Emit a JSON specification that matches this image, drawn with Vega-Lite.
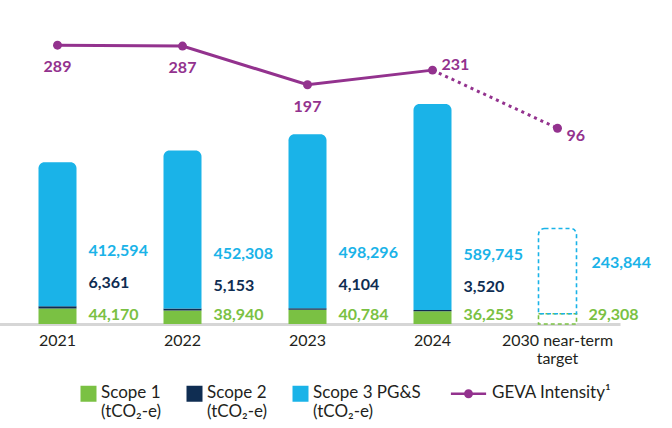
{
  "$schema": "https://vega.github.io/schema/vega-lite/v6.json",
  "width": 672,
  "height": 324,
  "padding": 0,
  "config": {"view": {"stroke": null}, "font": "Lato"},
  "datasets": {
    "bars": [
      {"year": "2021", "scope": "Scope 1", "value": 44170, "kind": "actual"},
      {"year": "2021", "scope": "Scope 2", "value": 6361, "kind": "actual"},
      {"year": "2021", "scope": "Scope 3 PG&S", "value": 412594, "kind": "actual"},
      {"year": "2022", "scope": "Scope 1", "value": 38940, "kind": "actual"},
      {"year": "2022", "scope": "Scope 2", "value": 5153, "kind": "actual"},
      {"year": "2022", "scope": "Scope 3 PG&S", "value": 452308, "kind": "actual"},
      {"year": "2023", "scope": "Scope 1", "value": 40784, "kind": "actual"},
      {"year": "2023", "scope": "Scope 2", "value": 4104, "kind": "actual"},
      {"year": "2023", "scope": "Scope 3 PG&S", "value": 498296, "kind": "actual"},
      {"year": "2024", "scope": "Scope 1", "value": 36253, "kind": "actual"},
      {"year": "2024", "scope": "Scope 2", "value": 3520, "kind": "actual"},
      {"year": "2024", "scope": "Scope 3 PG&S", "value": 589745, "kind": "actual"},
      {"year": "2030 near-term target", "scope": "Scope 1", "value": 29308, "kind": "target"},
      {"year": "2030 near-term target", "scope": "Scope 3 PG&S", "value": 243844, "kind": "target"}
    ],
    "intensity": [
      {"year": "2021", "intensity": 289},
      {"year": "2022", "intensity": 287},
      {"year": "2023", "intensity": 197},
      {"year": "2024", "intensity": 231},
      {"year": "2030 near-term target", "intensity": 96}
    ]
  },
  "layer": [
    {
      "data": {"name": "bars"},
      "transform": [
        {"stack": "value", "groupby": ["year"], "sort": [{"field": "scope", "order": "ascending"}], "as": ["v0", "v1"]}
      ],
      "layer": [
        {
          "transform": [{"filter": "datum.kind == 'actual' && datum.scope != 'Scope 3 PG&S'"}],
          "mark": {"type": "bar", "width": 38},
          "encoding": {
            "x": {
              "field": "year", "type": "nominal", "sort": null,
              "scale": {"domain": ["2021", "2022", "2023", "2024", "2030 near-term target"], "range": [-5, 620], "paddingInner": 0, "paddingOuter": 0},
              "axis": {
                "title": null, "domain": true, "domainColor": "#D6D6D6", "domainWidth": 3, "ticks": false, "labelAngle": 0,
                "labelFontSize": 16, "labelColor": "#231F20", "labelPadding": 8,
                "labelExpr": "datum.label == '2030 near-term target' ? ['2030 near-term', 'target'] : datum.label"
              }
            },
            "y": {"field": "v1", "type": "quantitative", "scale": {"domain": [0, 927000], "nice": false}, "axis": null},
            "y2": {"field": "v0"},
            "color": {
              "field": "scope", "type": "nominal",
              "scale": {"domain": ["Scope 1", "Scope 2", "Scope 3 PG&S", "GEVA Intensity¹"], "range": ["#7AC143", "#0F2D52", "#1AB3E8", "#93328E"]},
              "legend": {
                "orient": "none", "legendX": 80, "legendY": 385, "direction": "horizontal", "columns": 4, "title": null,
                "symbolType": "square", "symbolSize": 256, "symbolStrokeWidth": 0,
                "labelFontSize": 17, "labelColor": "#231F20", "labelOffset": 4, "columnPadding": 24, "labelLimit": 250,
                "labelBaseline": "top",
                "labelExpr": "datum.label == 'GEVA Intensity¹' ? [datum.label, ' '] : [datum.label, '(tCO₂-e)']",
                "encode": {
                  "symbols": {"update": {
                    "shape": {"signal": "datum.value == 'GEVA Intensity¹' ? 'M-2.2,0H2.2M-0.4,0a0.4,0.4 0 1,0 0.8,0a0.4,0.4 0 1,0 -0.8,0' : 'square'"},
                    "stroke": {"value": "#93328E"},
                    "strokeWidth": {"signal": "datum.value == 'GEVA Intensity¹' ? 2.5 : 0"}
                  }},
                  "labels": {"update": {
                    "dx": {"signal": "datum.value == 'GEVA Intensity¹' ? 11 : 0"},
                    "dy": {"value": -9}
                  }}
                }
              }
            }
          }
        },
        {
          "transform": [{"filter": "datum.kind == 'actual' && datum.scope == 'Scope 3 PG&S'"}],
          "mark": {"type": "bar", "width": 38, "cornerRadiusTopLeft": 6, "cornerRadiusTopRight": 6},
          "encoding": {
            "x": {"field": "year", "type": "nominal", "sort": null},
            "y": {"field": "v1", "type": "quantitative"},
            "y2": {"field": "v0"},
            "color": {"field": "scope", "type": "nominal"}
          }
        },
        {
          "transform": [{"filter": "datum.kind == 'target' && datum.scope == 'Scope 1'"}],
          "mark": {"type": "bar", "width": 38, "fill": "white", "stroke": "#7AC143", "strokeDash": [4, 3], "strokeWidth": 1.6},
          "encoding": {
            "x": {"field": "year", "type": "nominal", "sort": null},
            "y": {"field": "v1", "type": "quantitative"},
            "y2": {"field": "v0"}
          }
        },
        {
          "transform": [{"filter": "datum.kind == 'target' && datum.scope == 'Scope 3 PG&S'"}],
          "mark": {"type": "bar", "width": 38, "fill": "white", "fillOpacity": 0, "stroke": "#1AB3E8", "strokeDash": [4, 3], "strokeWidth": 1.6, "cornerRadiusTopLeft": 6, "cornerRadiusTopRight": 6},
          "encoding": {
            "x": {"field": "year", "type": "nominal", "sort": null},
            "y": {"field": "v1", "type": "quantitative"},
            "y2": {"field": "v0"}
          }
        },
        {
          "transform": [{"filter": "datum.scope == 'Scope 3 PG&S' && datum.kind == 'actual'"}],
          "mark": {"type": "text", "align": "left", "baseline": "middle", "dx": 31, "dy": -55, "fontSize": 16, "fontWeight": "bold", "color": "#1AB3E8"},
          "encoding": {
            "x": {"field": "year", "type": "nominal", "sort": null},
            "y": {"field": "v0", "type": "quantitative"},
            "text": {"field": "value", "type": "quantitative", "format": ","}
          }
        },
        {
          "transform": [{"filter": "datum.scope == 'Scope 3 PG&S' && datum.kind == 'target'"}],
          "mark": {"type": "text", "align": "left", "baseline": "middle", "dx": 34, "dy": -51, "fontSize": 16, "fontWeight": "bold", "color": "#1AB3E8"},
          "encoding": {
            "x": {"field": "year", "type": "nominal", "sort": null},
            "y": {"field": "v0", "type": "quantitative"},
            "text": {"field": "value", "type": "quantitative", "format": ","}
          }
        },
        {
          "transform": [{"filter": "datum.scope == 'Scope 2'"}],
          "mark": {"type": "text", "align": "left", "baseline": "middle", "dx": 31, "dy": -23, "fontSize": 16, "fontWeight": "bold", "color": "#0F2D52"},
          "encoding": {
            "x": {"field": "year", "type": "nominal", "sort": null},
            "y": {"field": "v1", "type": "quantitative"},
            "text": {"field": "value", "type": "quantitative", "format": ","}
          }
        },
        {
          "transform": [{"filter": "datum.scope == 'Scope 1'"}],
          "mark": {"type": "text", "align": "left", "baseline": "middle", "dx": 31, "dy": -9, "fontSize": 16, "fontWeight": "bold", "color": "#7AC143"},
          "encoding": {
            "x": {"field": "year", "type": "nominal", "sort": null},
            "y": {"field": "v0", "type": "quantitative"},
            "text": {"field": "value", "type": "quantitative", "format": ","}
          }
        }
      ]
    },
    {
      "data": {"name": "intensity"},
      "layer": [
        {
          "transform": [{"filter": "datum.year != '2030 near-term target'"}],
          "mark": {"type": "line", "color": "#93328E", "strokeWidth": 3},
          "encoding": {
            "x": {"field": "year", "type": "nominal", "sort": null},
            "y": {"field": "intensity", "type": "quantitative", "scale": {"domain": [-359, 394], "nice": false}, "axis": null}
          }
        },
        {
          "transform": [{"filter": "datum.year == '2024' || datum.year == '2030 near-term target'"}],
          "mark": {"type": "line", "color": "#93328E", "strokeWidth": 3, "strokeDash": [3, 4]},
          "encoding": {
            "x": {"field": "year", "type": "nominal", "sort": null},
            "y": {"field": "intensity", "type": "quantitative"}
          }
        },
        {
          "mark": {"type": "circle", "color": "#93328E", "size": 80, "opacity": 1},
          "encoding": {
            "x": {"field": "year", "type": "nominal", "sort": null},
            "y": {"field": "intensity", "type": "quantitative"}
          }
        },
        {
          "transform": [{"filter": "datum.year != '2024' && datum.year != '2030 near-term target'"}],
          "mark": {"type": "text", "align": "center", "baseline": "middle", "dy": 22, "fontSize": 16, "fontWeight": "bold", "color": "#93328E"},
          "encoding": {
            "x": {"field": "year", "type": "nominal", "sort": null},
            "y": {"field": "intensity", "type": "quantitative"},
            "text": {"field": "intensity", "type": "quantitative"}
          }
        },
        {
          "transform": [{"filter": "datum.year == '2024'"}],
          "mark": {"type": "text", "align": "left", "baseline": "middle", "dx": 9, "dy": -5, "fontSize": 16, "fontWeight": "bold", "color": "#93328E"},
          "encoding": {
            "x": {"field": "year", "type": "nominal", "sort": null},
            "y": {"field": "intensity", "type": "quantitative"},
            "text": {"field": "intensity", "type": "quantitative"}
          }
        },
        {
          "transform": [{"filter": "datum.year == '2030 near-term target'"}],
          "mark": {"type": "text", "align": "left", "baseline": "middle", "dx": 9, "dy": 8, "fontSize": 16, "fontWeight": "bold", "color": "#93328E"},
          "encoding": {
            "x": {"field": "year", "type": "nominal", "sort": null},
            "y": {"field": "intensity", "type": "quantitative"},
            "text": {"field": "intensity", "type": "quantitative"}
          }
        }
      ]
    }
  ],
  "resolve": {"scale": {"y": "independent"}}
}
